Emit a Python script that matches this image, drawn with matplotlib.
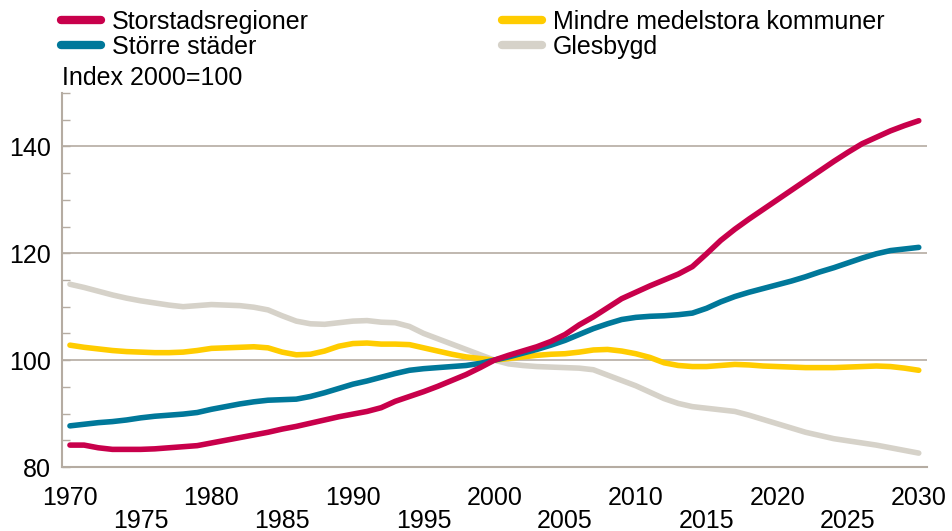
import matplotlib
matplotlib.use("Agg")
import matplotlib.pyplot as plt
from matplotlib.ticker import MultipleLocator

plt.rcParams['font.family'] = ['Liberation Sans', 'DejaVu Sans']

years = list(range(1970, 2031))

storstad = [84.1, 84.1, 83.6, 83.3, 83.3, 83.3, 83.4, 83.6, 83.8, 84.0,
            84.5, 85.0, 85.5, 86.0, 86.5, 87.1, 87.6, 88.2, 88.8, 89.4,
            89.9, 90.4, 91.1, 92.3, 93.2, 94.1, 95.1, 96.2, 97.3, 98.6,
            100.0, 100.9, 101.7, 102.5, 103.5, 104.8, 106.6, 108.1, 109.8, 111.5,
            112.7, 113.9, 115.0, 116.1, 117.5, 119.9, 122.4, 124.5, 126.4, 128.2,
            130.0, 131.8, 133.6, 135.4, 137.2, 138.9, 140.5, 141.7, 142.9, 143.9,
            144.8]

storre = [87.7, 88.0, 88.3, 88.5, 88.8, 89.2, 89.5, 89.7, 89.9, 90.2,
          90.8, 91.3, 91.8, 92.2, 92.5, 92.6, 92.7, 93.2, 93.9, 94.7,
          95.5, 96.1, 96.8, 97.5, 98.1, 98.4, 98.6, 98.8, 99.0, 99.4,
          100.0, 100.6, 101.3, 102.0, 102.8, 103.7, 104.8, 105.9, 106.8, 107.6,
          108.0, 108.2, 108.3, 108.5, 108.8, 109.7, 110.9, 111.9, 112.7, 113.4,
          114.1, 114.8, 115.6, 116.5, 117.3, 118.2, 119.1, 119.9, 120.5, 120.8,
          121.1]

mindre = [102.8, 102.4, 102.1, 101.8, 101.6, 101.5, 101.4, 101.4, 101.5, 101.8,
          102.2, 102.3, 102.4, 102.5, 102.3, 101.5, 101.0, 101.1, 101.7, 102.6,
          103.1, 103.2, 103.0, 103.0, 102.9, 102.3, 101.7, 101.1, 100.6, 100.3,
          100.0, 100.3, 100.6, 100.9, 101.1, 101.2, 101.5, 101.9, 102.0, 101.7,
          101.2, 100.5, 99.5, 99.0, 98.8, 98.8, 99.0, 99.2, 99.1, 98.9,
          98.8, 98.7, 98.6, 98.6, 98.6, 98.7, 98.8, 98.9, 98.8, 98.5,
          98.1]

glesbygd = [114.2, 113.6, 112.9, 112.2, 111.6, 111.1, 110.7, 110.3, 110.0, 110.2,
            110.4, 110.3, 110.2, 109.9, 109.4, 108.3, 107.3, 106.8, 106.7, 107.0,
            107.3, 107.4, 107.1, 107.0, 106.3, 105.0, 104.0, 103.0, 102.0, 101.0,
            100.0, 99.3, 99.0, 98.8, 98.7, 98.6, 98.5, 98.2, 97.2, 96.2,
            95.2, 94.0, 92.8, 91.9, 91.3, 91.0, 90.7, 90.4, 89.7, 88.9,
            88.1, 87.3, 86.5, 85.9, 85.3, 84.9, 84.5, 84.1, 83.6, 83.1,
            82.6]

decade_ticks = [1970, 1980, 1990, 2000, 2010, 2020, 2030]
half_ticks = [1975, 1985, 1995, 2005, 2015, 2025]
y_labels = [80, 100, 120, 140]

grid_col = '#B5ACA2'
fs = 18

fig = plt.figure(figsize=(9.52, 5.31), dpi=100)
ax = fig.add_axes([0.065, 0.1205, 0.909, 0.7045])

series = [
    ('Storstadsregioner', storstad, '#C8004B'),
    ('Större städer', storre, '#00789A'),
    ('Mindre medelstora kommuner', mindre, '#FFCC00'),
    ('Glesbygd', glesbygd, '#D6D2C9'),
]
handles = {}
# draw grey first so red ends up on top
for name, vals, col in series[::-1]:
    ln, = ax.plot(years, vals, color=col, lw=4.0, solid_capstyle='round', label=name)
    handles[name] = ln

ax.set_xlim(1969.43, 2030.6)
ax.set_ylim(80, 150)

ax.set_xticks(decade_ticks)
ax.set_xticklabels([str(t) for t in decade_ticks])
ax.set_xticks(half_ticks, minor=True)
ax.set_xticklabels([str(t) for t in half_ticks], minor=True)
ax.tick_params(axis='x', which='major', length=0, pad=14, labelsize=fs)
ax.tick_params(axis='x', which='minor', length=0, pad=30, labelsize=fs)

ax.set_yticks(y_labels)
ax.yaxis.set_minor_locator(MultipleLocator(5))
ax.tick_params(axis='y', which='both', direction='in', length=6, width=1,
               color=grid_col, labelsize=fs, pad=8)
ax.grid(axis='y', which='major', color=grid_col, lw=1.2)
ax.set_axisbelow(True)

for s in ['top', 'right']:
    ax.spines[s].set_visible(False)
for s in ['left', 'bottom']:
    ax.spines[s].set_color(grid_col)
    ax.spines[s].set_linewidth(1.5)

fig.text(0.065, 0.853, 'Index 2000=100', fontsize=fs, va='center', ha='left')

leg_kw = dict(loc='upper left', frameon=False, fontsize=fs, handlelength=1.6,
              handletextpad=0.45, borderpad=0, borderaxespad=0, labelspacing=0.05)
leg1 = fig.legend([handles['Storstadsregioner'], handles['Större städer']],
                  ['Storstadsregioner', 'Större städer'],
                  bbox_to_anchor=(0.064, 0.982), **leg_kw)
leg2 = fig.legend([handles['Mindre medelstora kommuner'], handles['Glesbygd']],
                  ['Mindre medelstora kommuner', 'Glesbygd'],
                  bbox_to_anchor=(0.527, 0.982), **leg_kw)
for leg in (leg1, leg2):
    for h in leg.legend_handles:
        h.set_linewidth(6)

fig.savefig('out.png', dpi=100)
